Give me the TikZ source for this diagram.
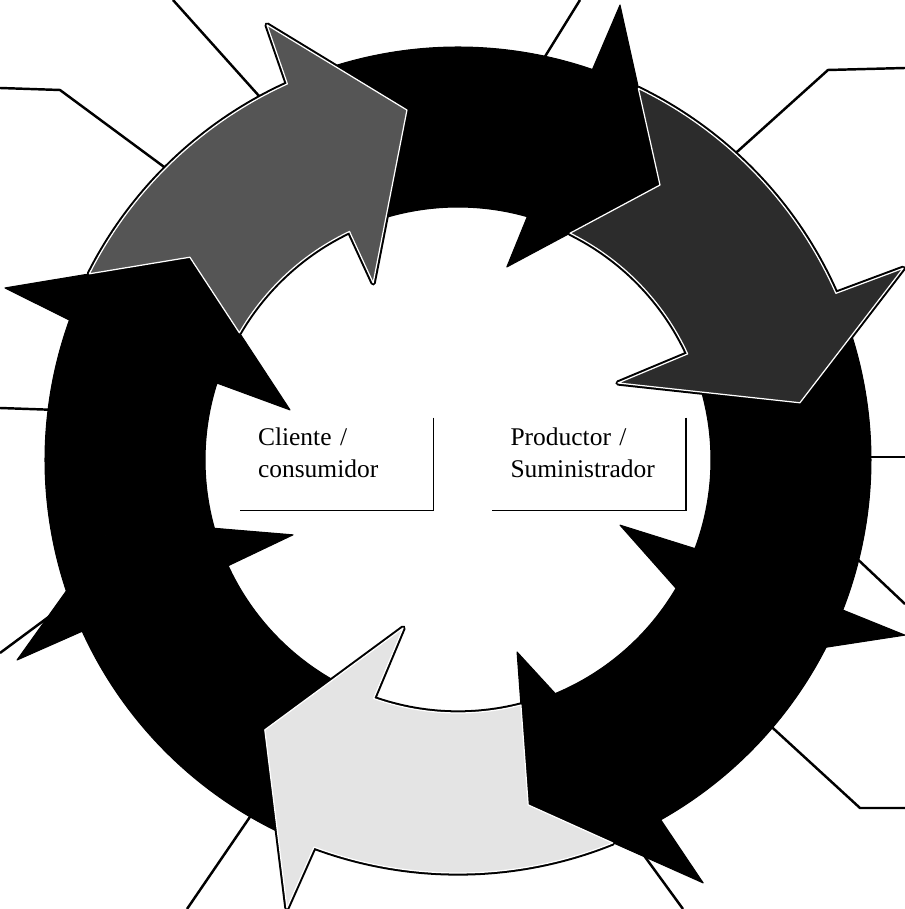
\documentclass[tikz,border=0pt]{standalone}
\usepackage{fontspec}
\setmainfont{Liberation Serif}
\usetikzlibrary{calc}
\definecolor{stagegrey}{HTML}{555555}
\definecolor{stagedark}{HTML}{2C2C2C}
\definecolor{stagelight}{HTML}{E4E4E4}
\newcommand\ringin{253}
\newcommand\ringout{413}
% one stage of the cycle: style, tail out/in angle, previous head,
% head back out angle, own head, head back in angle
\newcommand\stagearrow[7]{%
  \path[#1] (#2:\ringout) arc[start angle=#2, end angle=#5, radius=\ringout]
    -- (#6-o) -- (#6-t) -- (#6-i) -- (#7:\ringin)
    arc[start angle=#7, end angle=#3, radius=\ringin] -- (#4-t) -- cycle;}
\tikzset{
    cycle diagram/.style = {x=0.02cm, y=0.02cm},
    leader/.style        = {line width=1.4pt},
    stage/.style         = {draw=black, line width=0.6pt, line join=round},
    solid stage/.style   = {stage, fill=black},
    shaded stage/.style  = {stage, draw=white, line width=0.7pt,
                            preaction={draw=black, line width=3pt,
                                       line join=round}},
    corner label/.style  = {inner xsep=0.36cm, inner ysep=0pt,
                            text width=3.14cm, align=left,
                            minimum width=3.86cm, minimum height=1.84cm,
                            text height=0.36cm, text depth=1.12cm,
                            font=\fontsize{14.5}{18.7}\selectfont},
    corner/.style        = {line width=0.9pt}
}

\begin{document}
\begin{tikzpicture}[cycle diagram]
\useasboundingbox (-458,-449) rectangle (447,460);

% ================= Leader lines =================
\coordinate (tag1) at (-285,460);  \coordinate (rim1) at (-190,354);
\coordinate (tag2) at (-458,372);  \coordinate (bend2) at (-398,370);
\coordinate (rim2) at (-283,285);
\coordinate (tag3) at (-458,52);   \coordinate (rim3) at (-400,50);
\coordinate (tag4) at (-458,-193); \coordinate (rim4) at (-400,-150);
\coordinate (tag5) at (-271,-449); \coordinate (rim5) at (-204,-351);
\coordinate (tag6) at (122,460);   \coordinate (rim6) at (83,397);
\coordinate (tag7) at (447,392);   \coordinate (bend7) at (370,390);
\coordinate (rim7) at (270,300);
\coordinate (tag8) at (447,3);     \coordinate (rim8) at (400,3);
\coordinate (tag9) at (447,-144);  \coordinate (rim9) at (393,-93);
\coordinate (tag10) at (447,-348); \coordinate (bend10) at (402,-348);
\coordinate (rim10) at (305,-259);
\coordinate (tag11) at (225,-449); \coordinate (rim11) at (182,-390);
\draw[leader] (tag1) -- (rim1);
\draw[leader] (tag2) -- (bend2) -- (rim2);
\draw[leader] (tag3) -- (rim3);
\draw[leader] (tag4) -- (rim4);
\draw[leader] (tag5) -- (rim5);
\draw[leader] (tag6) -- (rim6);
\draw[leader] (tag7) -- (bend7) -- (rim7);
\draw[leader] (tag8) -- (rim8);
\draw[leader] (tag9) -- (rim9);
\draw[leader] (tag10) -- (bend10) -- (rim10);
\draw[leader] (tag11) -- (rim11);

% ================= Arrow heads =================
% -o outer barb, -t point, -i inner barb
\coordinate (ha-o) at (204.4:484.2);
\coordinate (ha-t) at (190.0:346.4);
\coordinate (ha-i) at (204.4:181.2);
\coordinate (hb-o) at (159.2:484.6);
\coordinate (hb-t) at (142.9:336.2);
\coordinate (hb-i) at (163.4:175.3);
\coordinate (hc-o) at (113.7:475.1);
\coordinate (hc-t) at (98.3:353.7);
\coordinate (hc-i) at (115.6:196.4);
\coordinate (hd-o) at (70.4:483);
\coordinate (hd-t) at (53.7:341.2);
\coordinate (hd-i) at (75.8:199.1);
\coordinate (he-o) at (23.3:484.7);
\coordinate (he-t) at (9.5:346.7);
\coordinate (he-i) at (25.7:177.6);
\coordinate (hf-o) at (-21.4:480);
\coordinate (hf-t) at (-35.4:346);
\coordinate (hf-i) at (-21.9:174.6);
\coordinate (hg-o) at (-59.9:488.8);
\coordinate (hg-t) at (-78.5:352);
\coordinate (hg-i) at (-72.9:200.9);
\coordinate (hh-o) at (-110.9:479.5);
\coordinate (hh-t) at (-125.6:331.9);
\coordinate (hh-i) at (-108.1:176.8);

% ================= Cycle stages =================
\stagearrow{solid stage}{244.1}{240.3}{hh}{204.5}{ha}{204.7}
\stagearrow{solid stage}{198.5}{195.7}{ha}{160.2}{hb}{162.3}
\stagearrow{solid stage}{107.4}{106.6}{hc}{71}{hd}{74.1}
\stagearrow{solid stage}{17.6}{15.5}{he}{-21.3}{hf}{-20.5}
\stagearrow{solid stage}{-26.9}{-30.4}{hf}{-60.6}{hg}{-67.4}
\stagearrow{shaded stage, fill=stagegrey}{153.2}{149.8}{hb}{114.4}{hc}{115.4}
\stagearrow{shaded stage, fill=stagedark}{64.1}{63.7}{hd}{23.8}{he}{24.8}
\stagearrow{shaded stage, fill=stagelight}{-68.0}{-75.6}{hg}{-110.4}{hh}{-109.5}

% ================= Centre labels =================
\node[corner label] (client) at (-121.5,-4) {Cliente /\\consumidor};
\node[corner label] (producer) at (131,-4) {Productor /\\Suministrador};
\draw[corner] (client.north east) -- (client.south east) -- (client.south west);
\draw[corner] (producer.north east) -- (producer.south east)
    -- (producer.south west);

\end{tikzpicture}
\end{document}
